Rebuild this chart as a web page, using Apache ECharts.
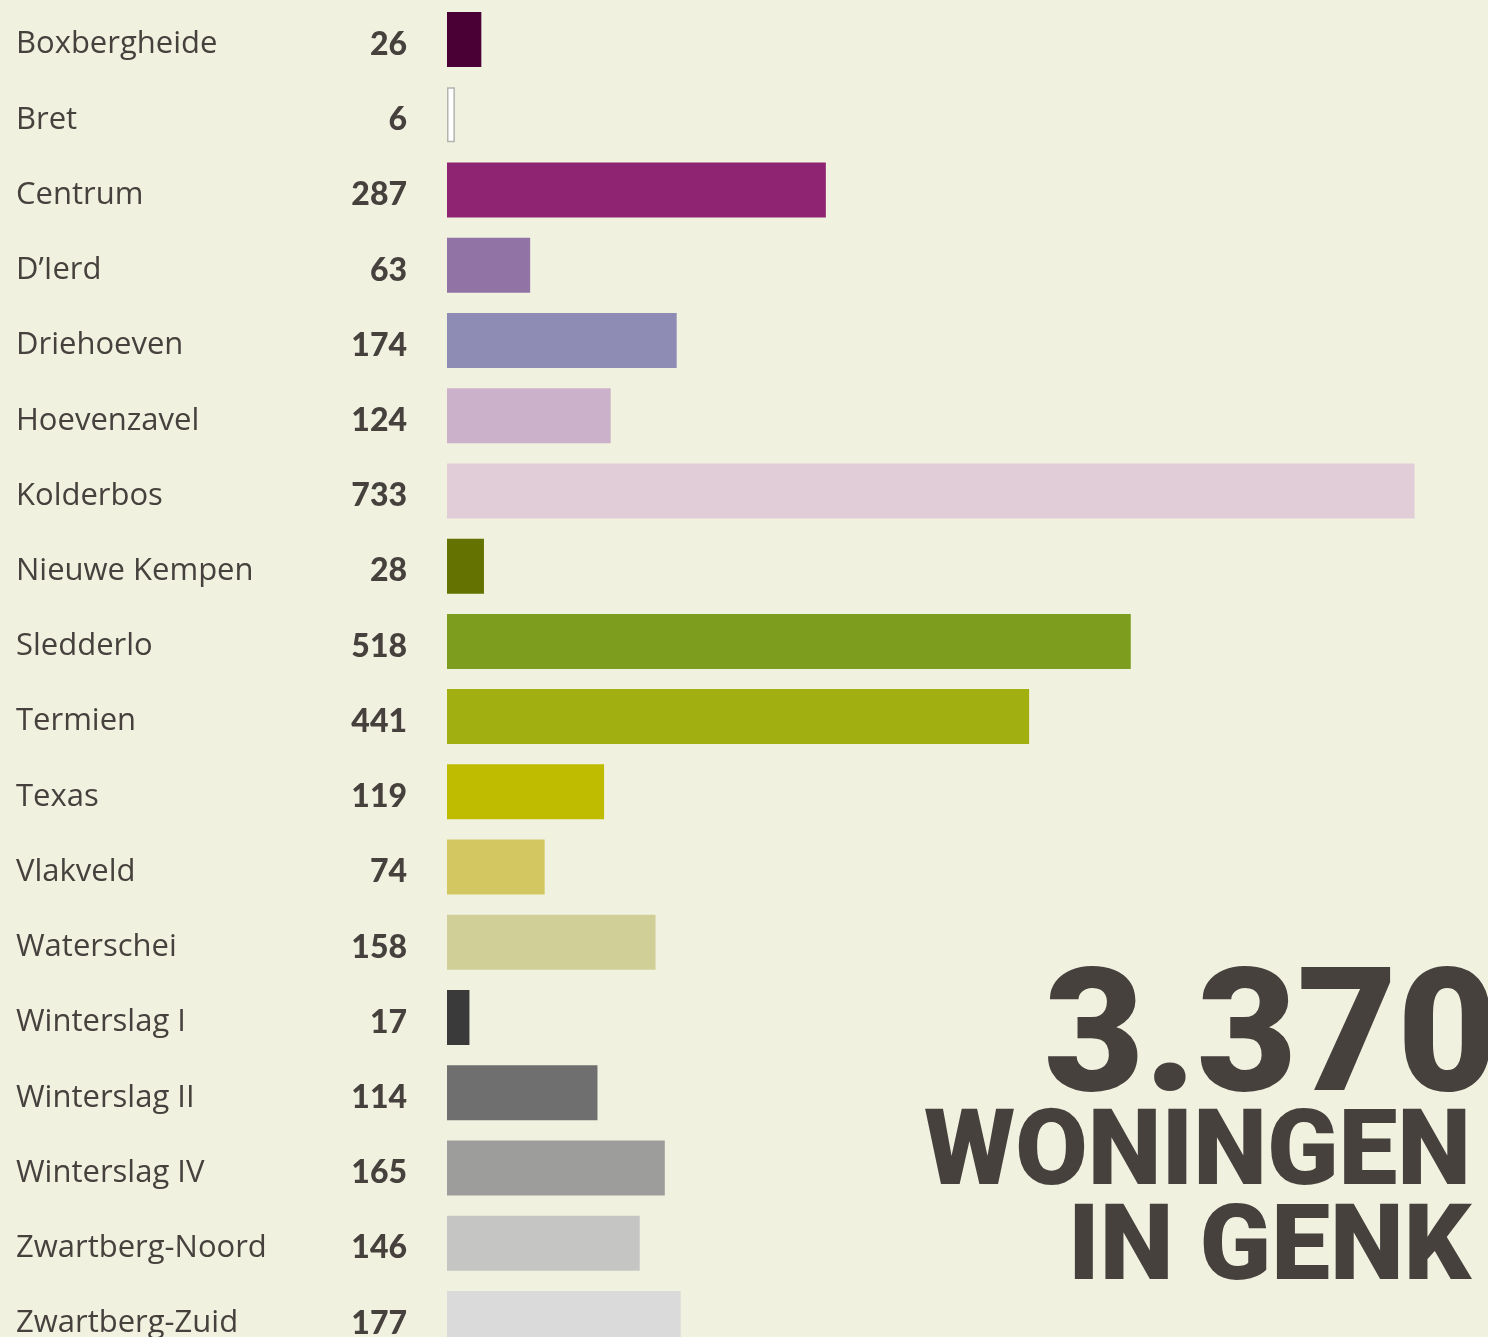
<!DOCTYPE html>
<html>
<head>
<meta charset="utf-8">
<script src="https://cdn.jsdelivr.net/npm/echarts@6/dist/echarts.min.js"></script>
<style>
  html, body { margin: 0; padding: 0; background: #f1f1e0; }
  #chart { width: 1488px; height: 1337px; }
</style>
</head>
<body>
<div id="chart"></div>
<script>
// wijken en aantallen
const wijken = ['Boxbergheide', 'Bret', 'Centrum', 'D’Ierd', 'Driehoeven', 'Hoevenzavel', 'Kolderbos',
  'Nieuwe Kempen', 'Sledderlo', 'Termien', 'Texas', 'Vlakveld', 'Waterschei', 'Winterslag I',
  'Winterslag II', 'Winterslag IV', 'Zwartberg-Noord', 'Zwartberg-Zuid']
const aantallen = [26, 6, 287, 63, 174, 124, 733, 28, 518, 441, 119, 74, 158, 17, 114, 165, 146, 177]
const kleuren = ['#4a0035', '#ffffff', '#8f2473', '#9273a5', '#8e8bb5', '#cbb1c9', '#e1cdd8',
  '#637200', '#7c9d1e', '#a1b010', '#bfbc00', '#d3c762', '#d1cf98', '#3a3a3a',
  '#6f6f6f', '#9d9e9c', '#c5c6c4', '#dadada']
const totaal = '3.370'

const textColor = '#46413d'
const myChart = echarts.init(document.getElementById('chart'))
const option = {
  backgroundColor: '#f1f1e0',
  animation: false,
  grid: {
    left: 447,
    top: 2,
    width: 1056,
    height: 1354,
    outerBoundsMode: 'none'
  },
  xAxis: {
    type: 'value',
    min: 0,
    max: 800,
    show: false
  },
  yAxis: {
    type: 'category',
    inverse: true,
    data: wijken,
    axisLine: { show: false },
    axisTick: { show: false },
    axisLabel: {
      align: 'left',
      margin: 431,
      formatter: value => '{n|' + value + '}',
      rich: {
        n: {
          color: textColor,
          fontFamily: 'Open Sans',
          fontSize: 31,
          padding: [10, 0, 0, 0]
        }
      }
    }
  },
  series: [
    {
      type: 'bar',
      barWidth: 55,
      data: aantallen.map((v, i) => ({
        value: v,
        itemStyle: {
          color: kleuren[i],
          borderColor: i === 1 ? '#b4b4b0' : null,
          borderWidth: i === 1 ? 1.5 : 0
        }
      })),
      label: {
        show: true,
        position: 'left',
        distance: 40,
        formatter: p => '{v|' + p.value + '}',
        rich: {
          v: {
            color: textColor,
            fontFamily: 'Lato',
            fontWeight: 900,
            fontSize: 32,
            padding: [10, 0, 0, 0]
          }
        }
      }
    }
  ],
  graphic: [
    {
      type: 'text',
      x: 1044,
      y: 1047,
      style: {
        text: totaal,
        fill: textColor,
        verticalAlign: 'middle',
        font: '900 173px Roboto'
      }
    },
    {
      type: 'text',
      x: 924,
      y: 1158,
      style: {
        text: 'WONINGEN',
        fill: textColor,
        verticalAlign: 'middle',
        font: '900 105px Roboto'
      }
    },
    {
      type: 'text',
      x: 1068,
      y: 1253,
      style: {
        text: 'IN GENK',
        fill: textColor,
        verticalAlign: 'middle',
        font: '900 105px Roboto'
      }
    }
  ]
}
option && myChart.setOption(option)
</script>
</body>
</html>
